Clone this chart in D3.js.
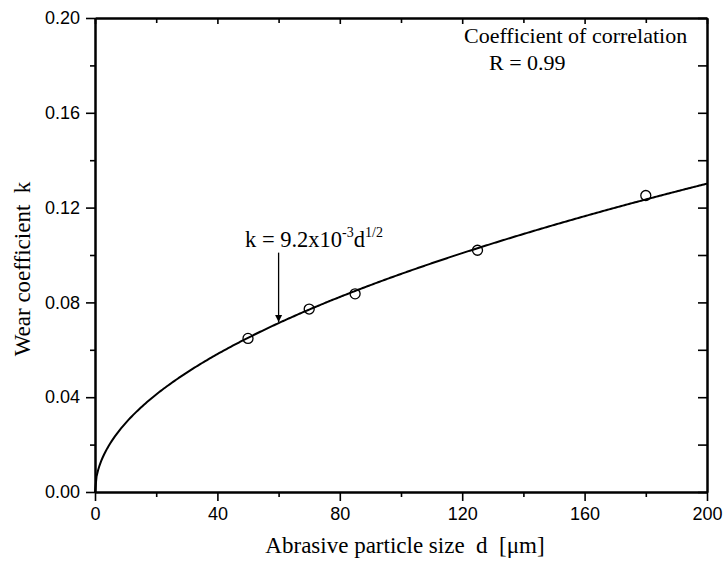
<!DOCTYPE html>
<html>
<head>
<meta charset="utf-8">
<script src="https://cdn.jsdelivr.net/npm/d3@7"></script>
<style>
  body { margin: 0; background: #fff; }
  svg { display: block; }
</style>
</head>
<body>
<script>
const svgW = 726;
const svgH = 568;
const margin = {top: 18, right: 19, bottom: 76, left: 95};

// data
const particleSize = [50, 70, 85, 125, 180];
const wearCoef = [0.0648, 0.0772, 0.0836, 0.1020, 0.1251];
const xTicks = [0, 40, 80, 120, 160, 200];
const yTicks = [0.00, 0.04, 0.08, 0.12, 0.16, 0.20];
const xMinor = [20, 60, 100, 140, 180];
const yMinor = [0.02, 0.06, 0.10, 0.14, 0.18];
const fitA = 9.2e-3; // k = a * d^(1/2)
const arrowD = 60;
const arrowTopK = 0.101;

const w = svgW - margin.left - margin.right;
const h = svgH - margin.top - margin.bottom;

const svg = d3.select('body')
              .append('svg')
              .attr('width', svgW)
              .attr('height', svgH);

svg.append('defs').append('marker')
   .attr('id', 'arrow')
   .attr('viewBox', '0 0 10 10')
   .attr('refX', 10).attr('refY', 5)
   .attr('markerWidth', 7).attr('markerHeight', 12)
   .attr('markerUnits', 'userSpaceOnUse')
   .attr('orient', 'auto')
   .append('path')
   .attr('d', 'M0,0 L10,5 L0,10 Z')
   .attr('fill', '#000');

const g = svg.append('g')
             .attr('transform', `translate(${margin.left}, ${margin.top})`);

const x = d3.scaleLinear().domain([0, 200]).range([0, w]);
const y = d3.scaleLinear().domain([0, 0.2]).range([h, 0]);

// 坐标轴 helpers
function styleAxis(sel) {
  sel.select('.domain').attr('stroke-width', 2);
  sel.selectAll('.tick line').attr('stroke-width', 1.6);
  sel.selectAll('text')
     .attr('font-family', '"Liberation Sans", Arial, sans-serif')
     .attr('font-size', 18)
     .attr('fill', '#000');
}

// bottom
g.append('g')
 .attr('transform', `translate(0, ${h})`)
 .call(d3.axisBottom(x).tickValues(xTicks).tickSize(9).tickSizeOuter(0).tickPadding(6).tickFormat(d3.format('d')))
 .call(styleAxis);
g.append('g')
 .attr('transform', `translate(0, ${h})`)
 .call(d3.axisBottom(x).tickValues(xMinor).tickSize(5).tickSizeOuter(0).tickFormat(''))
 .call(styleAxis);

// left
g.append('g')
 .call(d3.axisLeft(y).tickValues(yTicks).tickSize(9).tickSizeOuter(0).tickPadding(6).tickFormat(d3.format('.2f')))
 .call(styleAxis);
g.append('g')
 .call(d3.axisLeft(y).tickValues(yMinor).tickSize(5).tickSizeOuter(0).tickFormat(''))
 .call(styleAxis);

// top (inward)
g.append('g')
 .call(d3.axisTop(x).tickValues(xTicks).tickSize(-6).tickSizeOuter(0).tickFormat(''))
 .call(styleAxis);
g.append('g')
 .call(d3.axisTop(x).tickValues(xMinor).tickSize(-5).tickSizeOuter(0).tickFormat(''))
 .call(styleAxis);

// right (inward)
g.append('g')
 .attr('transform', `translate(${w}, 0)`)
 .call(d3.axisRight(y).tickValues(yTicks).tickSize(-9).tickSizeOuter(0).tickFormat(''))
 .call(styleAxis);
g.append('g')
 .attr('transform', `translate(${w}, 0)`)
 .call(d3.axisRight(y).tickValues(yMinor).tickSize(-9).tickSizeOuter(0).tickFormat(''))
 .call(styleAxis);

// fitted curve
const fitD = d3.range(0, 200.5, 0.5);
const line = d3.line()
               .x(d => x(d))
               .y(d => y(fitA * Math.sqrt(d)));
g.append('path')
 .datum(fitD)
 .attr('d', line)
 .attr('fill', 'none')
 .attr('stroke', '#000')
 .attr('stroke-width', 2);

// data points
g.selectAll('.pt')
 .data(particleSize)
 .enter()
 .append('circle')
 .attr('class', 'pt')
 .attr('cx', d => x(d))
 .attr('cy', (d, i) => y(wearCoef[i]))
 .attr('r', 5)
 .attr('fill', 'none')
 .attr('stroke', '#000')
 .attr('stroke-width', 1.3);

// arrow
g.append('line')
 .attr('x1', x(arrowD)).attr('y1', y(arrowTopK))
 .attr('x2', x(arrowD)).attr('y2', y(fitA * Math.sqrt(arrowD)) - 1)
 .attr('stroke', '#000')
 .attr('stroke-width', 1.3)
 .attr('marker-end', 'url(#arrow)');

const serif = '"Liberation Serif", "Times New Roman", serif';

// equation
const eq = svg.append('text')
              .attr('x', 245)
              .attr('y', 247)
              .attr('font-family', serif)
              .attr('font-size', 22.5)
              .attr('fill', '#000');
eq.append('tspan').text('k = 9.2x10');
eq.append('tspan').attr('font-size', 14).attr('dy', -10).text('-3');
eq.append('tspan').attr('dy', 10).text('d');
eq.append('tspan').attr('font-size', 14).attr('dy', -10).text('1/2');

// correlation note
svg.append('text')
   .attr('x', 464).attr('y', 43)
   .attr('font-family', serif).attr('font-size', 22)
   .text('Coefficient of correlation');
svg.append('text')
   .attr('x', 489).attr('y', 70)
   .attr('font-family', serif).attr('font-size', 22)
   .text('R = 0.99');

// axis titles
svg.append('text')
   .attr('x', 405)
   .attr('y', 553)
   .attr('text-anchor', 'middle')
   .attr('font-family', serif).attr('font-size', 23)
   .style('white-space', 'pre')
   .text('Abrasive particle size  d  [\u03bcm]');
svg.append('text')
   .attr('transform', 'translate(30, 269) rotate(-90)')
   .attr('text-anchor', 'middle')
   .attr('font-family', serif).attr('font-size', 23)
   .style('white-space', 'pre')
   .text('Wear coefficient  k');
</script>
</body>
</html>
